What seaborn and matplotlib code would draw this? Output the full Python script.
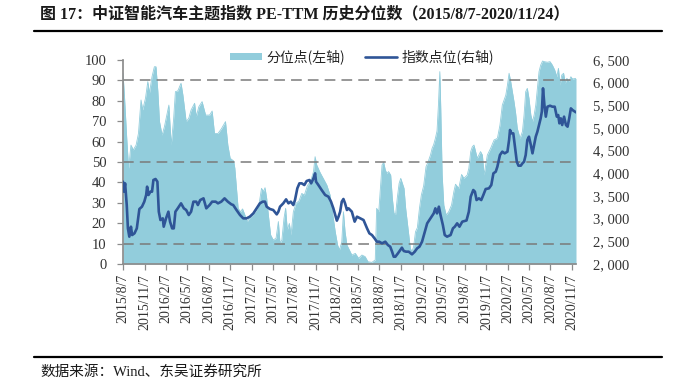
import numpy as np
import pandas as pd
import matplotlib
matplotlib.use("Agg")
import matplotlib.pyplot as plt
import matplotlib.dates as mdates
from matplotlib.patches import Patch
from matplotlib.lines import Line2D
import seaborn as sns

# ---------------- data ----------------
START = "2015-08-07"
END = "2020-11-24"

# percentile series (left axis): day offset from START, value
pct_day = [0, 6, 16, 24, 34, 44, 56, 66, 77, 84, 96, 106, 113, 124, 134, 141, 149, 156, 167, 177,
           187, 196, 206, 216, 224, 234, 248, 256, 270, 281, 291, 306, 313, 324, 338, 353, 370, 381, 391, 406,
           420, 438, 448, 458, 473,
           478, 485, 492, 502, 511, 521, 531, 542, 557, 571, 582, 592, 600, 607, 614, 622, 631, 642, 654, 664,
           671, 679, 688, 695, 702, 711, 718, 728, 739, 752, 764, 775, 788, 802, 814, 821, 828, 842, 857, 871,
           885, 895, 907, 917, 925, 935, 942, 949, 957, 971,
           978, 993, 1007, 1021, 1035, 1047, 1064, 1078, 1084, 1093, 1100, 1107, 1114, 1121, 1128, 1135, 1144,
           1151, 1158, 1165, 1172, 1180, 1187, 1194, 1201, 1208, 1218, 1228, 1235, 1242, 1250, 1258, 1267, 1275,
           1285, 1295, 1304, 1314, 1321, 1328, 1335, 1342, 1348, 1354, 1358, 1364, 1371, 1381, 1392, 1404, 1414,
           1421, 1435, 1447, 1457,
           1471, 1478, 1486, 1493, 1500, 1507, 1514, 1521, 1528, 1536, 1543, 1550, 1557, 1571, 1586, 1600, 1611,
           1621, 1636, 1643, 1650, 1657, 1664, 1671, 1678, 1685, 1697, 1707, 1714, 1721, 1728, 1735, 1743, 1750,
           1757, 1764, 1771, 1778, 1785, 1793, 1800, 1814, 1825, 1835, 1845, 1854, 1861, 1868, 1875, 1883, 1890,
           1897, 1907, 1914, 1921, 1936]
pct_val = [93.5, 82.8, 61.6, 46.9, 58.3, 55.9, 58.3, 64.0, 80.4, 75.5, 81.2, 89.4, 83.7, 91.8, 96.7, 96.7,
           84.5, 69.8, 63.2, 67.3, 73.0, 77.9, 58.3, 70.6, 84.5, 84.8, 88.6, 82.8, 69.8, 71.4, 75.5, 78.8, 72.2,
           77.1, 79.6, 73.0, 73.0, 75.0, 64.0, 64.0, 66.2, 69.8, 58.3, 51.8, 50.5,
           46.9, 37.1, 27.3, 25.6, 27.0, 24.0, 20.8, 22.7, 24.3, 26.5, 29.7, 37.1, 35.5, 37.4, 32.2, 23.2, 14.2,
           11.8, 12.6, 20.8, 10.1, 11.8, 22.4, 27.3, 16.7, 19.9, 14.2, 25.6, 29.7, 30.9, 34.6, 33.8, 38.4, 40.7,
           45.2, 52.6, 48.5, 44.9, 41.7, 38.7, 33.8, 25.6, 15.8, 9.3, 6.9, 10.9, 25.6, 15.8, 9.3, 6.0,
           4.4, 5.2, 2.8, 4.4, 3.6, 1.1, 0.8, 2.0, 27.3, 25.6, 37.1, 48.5, 49.8, 46.1, 44.4, 45.3, 43.6, 32.2,
           24.8, 24.3, 32.2, 39.5, 42.0, 39.5, 37.1, 27.3, 17.5, 7.7, 6.0, 8.5, 15.8, 17.8, 27.3, 33.8, 38.4,
           47.7, 50.1, 53.4, 56.7, 58.6, 61.6, 65.2, 77.9, 94.3, 76.3, 43.6, 28.9, 24.0, 25.6, 28.9, 35.5, 39.1,
           37.1, 43.9, 42.0,
           43.6, 46.9, 55.1, 57.5, 58.3, 55.1, 51.8, 53.4, 55.1, 53.4, 43.6, 48.5, 53.4, 56.7, 60.8, 61.6, 68.1,
           77.9, 82.8, 87.7, 93.5, 89.4, 84.5, 79.6, 73.9, 66.5, 61.6, 64.9, 73.0, 84.5, 86.1, 81.2, 73.0, 69.8,
           73.0, 77.9, 86.1, 94.3, 97.5, 99.5, 99.2, 98.9, 99.2, 97.5, 95.1, 91.8, 95.9, 87.7, 92.6, 93.5, 88.6,
           91.0, 89.4, 91.8, 90.7, 91.0]

# index level series (right axis)
idx_day = [0, 4, 9, 16, 21, 27, 34, 39, 49, 59, 70, 81, 91, 99, 103, 109, 117, 124, 130, 139,
           147, 153, 160, 170, 174, 184, 194, 201, 210, 217, 224, 234, 248, 260, 270, 281, 291, 301, 313, 320,
           330, 344, 356, 370, 381, 396, 406, 420, 434, 448, 463,
           471, 485, 500, 514, 528, 542, 557, 571, 585, 597, 607, 614, 628, 642, 657, 664, 671, 685, 697, 707,
           717, 728, 735, 745, 754, 764, 775, 785, 797, 804, 814, 821, 825, 835, 849, 864, 878, 889, 899, 907,
           914, 921, 928, 935, 942, 949, 957,
           964, 978, 990, 1000, 1014, 1028, 1043, 1053, 1064, 1075, 1085, 1095, 1107, 1121, 1132, 1142, 1150,
           1157, 1164, 1175, 1185, 1192, 1200, 1210, 1221, 1235, 1247, 1257, 1267, 1278, 1290, 1300, 1314, 1328,
           1335, 1342, 1350, 1357, 1367, 1375, 1385, 1400, 1410, 1418, 1428, 1438, 1450,
           1468, 1478, 1486, 1497, 1504, 1511, 1521, 1531, 1540, 1550, 1564, 1574, 1583, 1593, 1600, 1611, 1621,
           1631, 1643, 1650, 1654, 1660, 1668, 1674, 1683, 1690, 1700, 1707, 1714, 1721, 1728, 1735, 1743, 1750,
           1757, 1764, 1771, 1778, 1785, 1790, 1795, 1801, 1807, 1814, 1825, 1835, 1845, 1854, 1860, 1865, 1871,
           1877, 1885, 1893, 1900, 1907, 1914, 1921, 1936]
idx_val = [3816, 3595, 3779, 3301, 2786, 2603, 2823, 2639, 2676, 2786, 3213, 3264, 3375, 3522, 3706, 3522,
           3595, 3595, 3853, 3875, 3816, 3154, 2970, 3007, 2823, 3007, 3154, 2934, 2786, 2786, 3154, 3228, 3338,
           3228, 3191, 3081, 3154, 3375, 3375, 3301, 3411, 3448, 3228, 3301, 3375, 3375, 3338, 3375, 3448, 3375,
           3316,
           3301, 3191, 3081, 3007, 3007, 3044, 3117, 3228, 3338, 3375, 3375, 3264, 3213, 3191, 3095, 3154, 3264,
           3338, 3426, 3338, 3375, 3301, 3411, 3669, 3779, 3779, 3742, 3831, 3853, 3779, 3889, 4000, 3816, 3742,
           3632, 3522, 3485, 3375, 3228, 3081, 2956, 3044, 3154, 3375, 3434, 3338, 3191,
           3228, 3154, 2934, 3044, 3007, 2970, 2786, 2676, 2639, 2566, 2492, 2492, 2456, 2492, 2419, 2382, 2272,
           2161, 2161, 2235, 2308, 2360, 2286, 2272, 2272, 2213, 2272, 2345, 2382, 2492, 2713, 2897, 3007, 3117,
           3228, 3117, 3264, 3081, 2860, 2639, 2603, 2639, 2786, 2823, 2897, 2823, 2934,
           2960, 3154, 3485, 3632, 3595, 3411, 3448, 3411, 3522, 3654, 3669, 3742, 4000, 4036, 4147, 4404, 4478,
           4441, 4478, 4735, 4956, 4882, 4882, 4625, 4257, 4169, 4169, 4220, 4257, 4404, 4735, 4809, 4625, 4441,
           4625, 4809, 4919, 5066, 5213, 5360, 5875, 5507, 5250, 5470, 5492, 5470, 5470, 5250, 5286, 5103, 5213,
           5066, 5250, 5066, 5029, 5213, 5433, 5397, 5345]

x_tick_labels = ["2015/8/7", "2015/11/7", "2016/2/7", "2016/5/7", "2016/8/7", "2016/11/7", "2017/2/7",
                 "2017/5/7", "2017/8/7", "2017/11/7", "2018/2/7", "2018/5/7", "2018/8/7", "2018/11/7",
                 "2019/2/7", "2019/5/7", "2019/8/7", "2019/11/7", "2020/2/7", "2020/5/7", "2020/8/7",
                 "2020/11/7"]
left_ticks = [0, 10, 20, 30, 40, 50, 60, 70, 80, 90, 100]
right_ticks = [2000, 2500, 3000, 3500, 4000, 4500, 5000, 5500, 6000, 6500]
grid_levels = [10, 50, 90]

title_text = "图 17：中证智能汽车主题指数 PE-TTM 历史分位数（2015/8/7-2020/11/24）"
source_text = "数据来源：Wind、东吴证券研究所"
legend_labels = ["分位点(左轴)", "指数点位(右轴)"]

# ---------------- frames ----------------
t0 = pd.Timestamp(START)
pct_df = pd.DataFrame({"date": t0 + pd.to_timedelta(pct_day, unit="D"), "pct": pct_val})
idx_df = pd.DataFrame({"date": t0 + pd.to_timedelta(idx_day, unit="D"), "idx": idx_val})
tick_dates = pd.to_datetime(x_tick_labels, format="%Y/%m/%d")

# ---------------- style ----------------
sns.set_theme(style="white")
FONTS = ["Liberation Serif", "Noto Sans CJK SC", "DejaVu Sans"]
plt.rcParams["font.family"] = FONTS
plt.rcParams["axes.unicode_minus"] = False

AREA = "#92CDDC"
LINE = "#2F5597"
TXT = "#333333"
AXC = "#8C8C8C"

fig = plt.figure(figsize=(6.98, 3.85), dpi=100)
ax = fig.add_axes([123 / 698, 1 - 264 / 385, (576 - 123) / 698, (264 - 60) / 385])
ax2 = ax.twinx()

# area (left axis)
ax.fill_between(pct_df["date"], 0, pct_df["pct"], color=AREA, linewidth=0, zorder=1)
sns.lineplot(data=pct_df, x="date", y="pct", ax=ax, color=AREA, linewidth=0.6, zorder=1, legend=False)
for g in grid_levels:
    ax.axhline(g, color="#7a7a7a", linewidth=1.1, dashes=(7, 4), zorder=2)

# index line (right axis)
sns.lineplot(data=idx_df, x="date", y="idx", ax=ax2, color=LINE, linewidth=1.9, legend=False, zorder=3)

ax.set_xlim(t0, pd.Timestamp(END))
ax.set_ylim(0, 100)
ax2.set_ylim(2000, 6500)
ax.set_yticks(left_ticks)
ax.set_yticklabels([str(v) for v in left_ticks])
ax2.set_yticks(right_ticks)
ax2.set_yticklabels([f"{v // 1000}, {v % 1000:03d}" for v in right_ticks])
ax.set_xticks(tick_dates)
ax.set_xticklabels(x_tick_labels, rotation=90)
for a in (ax, ax2):
    a.set_xlabel("")
    a.set_ylabel("")
    for s in a.spines.values():
        s.set_visible(False)
ax.spines["left"].set_visible(True)
ax.spines["bottom"].set_visible(True)
ax.spines["left"].set_color(AXC)
ax.spines["bottom"].set_color(AXC)
ax.tick_params(axis="y", which="major", direction="out", length=4, width=0.9, color=AXC,
               labelsize=10.5, labelcolor=TXT, pad=8, left=True)
ax.tick_params(axis="x", which="major", direction="out", length=4, width=0.9, color=AXC,
               labelsize=10, labelcolor=TXT, pad=3, bottom=True)
ax2.tick_params(axis="y", which="major", length=0, labelsize=10.5, labelcolor=TXT, pad=12)
ax.grid(False)
ax2.grid(False)

# legend
handles = [Patch(facecolor=AREA, edgecolor="none"), Line2D([0], [0], color=LINE, linewidth=1.9)]
fig.legend(handles, legend_labels, loc="center", bbox_to_anchor=(362 / 698, 1 - 57 / 385), ncol=2,
           frameon=True, facecolor="white", edgecolor="none", framealpha=1,
           handlelength=2.3, handleheight=0.45, handletextpad=0.3, columnspacing=1.5, borderpad=0.15,
           prop={"family": ["Noto Sans CJK SC", "DejaVu Sans"], "size": 10})

# title, rules, source
fig.text(40 / 698, 1 - 14 / 385, title_text, fontsize=11.5, fontweight="bold", color="#1a1a1a",
         ha="left", va="center", family=["Liberation Serif", "Noto Sans CJK SC"])
fig.add_artist(Line2D([34 / 698, 662 / 698], [1 - 31 / 385, 1 - 31 / 385], color="black", linewidth=1.6))
fig.add_artist(Line2D([34 / 698, 662 / 698], [1 - 357 / 385, 1 - 357 / 385], color="black", linewidth=1.6))
fig.text(40 / 698, 1 - 372 / 385, source_text, fontsize=10.5, color="#1a1a1a", ha="left", va="center",
         family=["Liberation Serif", "Noto Sans CJK SC"])

fig.savefig("out.png", dpi=100)
